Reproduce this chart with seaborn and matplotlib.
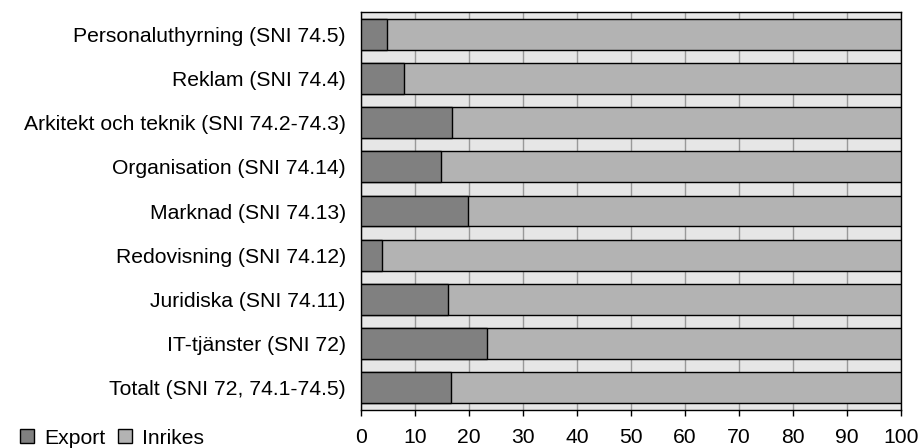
import matplotlib
matplotlib.use("Agg")
import matplotlib.pyplot as plt
import matplotlib.patches as mpatches
import seaborn as sns
import pandas as pd

categories = [
    "Personaluthyrning (SNI 74.5)",
    "Reklam (SNI 74.4)",
    "Arkitekt och teknik (SNI 74.2-74.3)",
    "Organisation (SNI 74.14)",
    "Marknad (SNI 74.13)",
    "Redovisning (SNI 74.12)",
    "Juridiska (SNI 74.11)",
    "IT-tjänster (SNI 72)",
    "Totalt (SNI 72, 74.1-74.5)",
]
export = [4.9, 7.9, 16.8, 14.9, 19.8, 3.9, 16.2, 23.3, 16.7]
inrikes = [95.1, 92.1, 83.2, 85.1, 80.2, 96.1, 83.8, 76.7, 83.3]

df = pd.DataFrame({"kategori": categories, "Export": export, "Inrikes": inrikes})
df["total"] = df["Export"] + df["Inrikes"]

sns.set_style("white")
plt.rcParams["font.family"] = ["Liberation Sans", "DejaVu Sans"]
plt.rcParams["text.color"] = "black"
plt.rcParams["xtick.color"] = "black"
plt.rcParams["ytick.color"] = "black"

fs = 15.2
fig, ax = plt.subplots(figsize=(9.2, 4.48), dpi=100)
ax.set_facecolor("#e6e6e6")

sns.barplot(data=df, x="total", y="kategori", color="#b3b3b3", saturation=1,
            width=0.7, edgecolor="black", linewidth=1, ax=ax, zorder=3)
sns.barplot(data=df, x="Export", y="kategori", color="#808080", saturation=1,
            width=0.7, edgecolor="black", linewidth=1, ax=ax, zorder=4)

ax.set_xlim(0, 100)
ax.set_xticks(range(0, 101, 10))
ax.xaxis.grid(True, color="#999999", linewidth=1, zorder=0)
ax.set_axisbelow(True)
ax.set_xlabel("")
ax.set_ylabel("")
ax.tick_params(axis="x", direction="out", length=4.5, width=1, colors="black",
               labelsize=fs, pad=8.5, bottom=True)
ax.tick_params(axis="y", length=0, labelsize=fs, pad=11, colors="black")
for s in ax.spines.values():
    s.set_visible(True)
    s.set_color("black")
    s.set_linewidth(1)

handles = [mpatches.Patch(facecolor="#808080", edgecolor="black", label="Export"),
           mpatches.Patch(facecolor="#b3b3b3", edgecolor="black", label="Inrikes")]
fig.legend(handles=handles, loc="lower left", bbox_to_anchor=(0.001, -0.042), ncol=2,
           frameon=False, fontsize=fs, handlelength=0.65, handleheight=0.65,
           handletextpad=0.5, columnspacing=0.6)

fig.subplots_adjust(left=0.3924, right=0.9793, top=0.9732, bottom=0.0848)
fig.savefig("out.png", dpi=100)
